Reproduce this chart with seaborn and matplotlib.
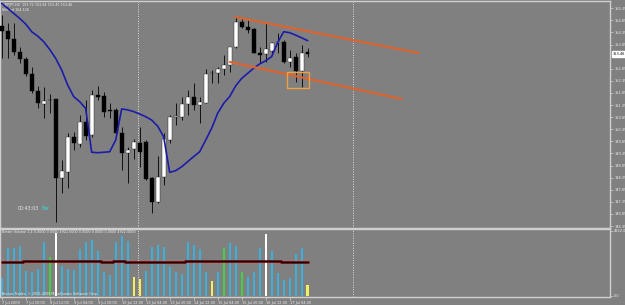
import matplotlib
matplotlib.use("Agg")
import matplotlib.pyplot as plt
import seaborn as sns
import numpy as np
import pandas as pd

# ---------------- data ----------------
opens  = [154.62,154.42,154.06,153.56,153.24,152.63,151.94,151.39,151.56,151.59,
          148.35,148.60,150.04,149.74,150.66,150.11,151.76,151.73,151.15,151.15,
          150.18,149.35,149.53,149.79,149.84,148.32,147.33,148.36,149.90,150.87,
          150.87,151.38,151.70,151.35,151.45,152.66,152.66,152.82,153.00,153.73,
          154.79,154.59,154.48,153.51,153.46,153.60,153.93,153.97,153.14,153.32,
          152.77,153.56]
closes = [154.42,154.06,153.56,153.24,152.63,151.94,151.42,151.52,151.55,148.32,
          148.64,150.04,149.77,150.66,150.07,151.76,151.70,151.08,151.12,150.18,
          149.38,149.49,149.84,149.40,148.29,147.36,148.36,149.93,150.87,150.90,
          151.38,151.70,151.35,151.46,152.63,152.69,152.82,152.99,153.73,154.79,
          154.59,154.45,153.51,153.42,153.65,153.93,153.97,153.14,153.28,152.77,
          153.51,153.46]
highs  = [155.07,154.75,154.75,153.76,153.32,152.94,152.14,152.08,151.81,151.62,
          149.08,150.18,150.25,150.94,151.56,151.97,152.14,151.90,151.42,151.21,
          150.46,149.63,149.93,150.46,149.90,148.39,149.24,150.18,150.94,151.45,
          151.70,151.97,152.27,151.70,152.82,152.80,152.94,153.42,153.76,155.00,
          154.93,154.86,154.52,153.76,154.73,153.97,154.31,154.04,153.62,153.49,
          153.83,153.69]
lows   = [153.28,153.28,153.42,153.07,152.55,151.83,151.21,150.80,151.01,146.53,
          147.70,147.91,149.49,149.63,149.90,150.04,151.56,150.87,150.80,150.04,
          148.67,148.14,149.11,148.80,148.25,146.90,147.29,148.05,149.77,150.52,
          150.73,150.94,151.15,150.62,151.42,152.25,152.25,152.59,152.73,153.69,
          154.52,154.31,153.49,153.07,153.14,153.49,153.49,153.07,152.94,152.31,
          152.08,153.32]
ma_values = [155.55,155.35,155.14,154.93,154.70,154.38,154.20,153.97,153.65,153.28,
             152.80,152.18,151.70,151.49,151.21,149.40,149.38,149.40,149.42,149.90,
             151.19,151.15,151.08,150.98,150.87,150.73,150.48,150.04,148.57,148.64,
             148.80,149.01,149.22,149.42,149.90,150.39,151.01,151.42,151.70,152.14,
             152.45,152.66,152.87,153.05,153.18,153.35,153.93,154.38,154.34,154.24,
             154.13,154.01]
volumes = [1338,3660,3660,3786,1893,1843,2044,4064,2978,4745,
           2297,2019,1969,3534,4114,4266,3407,1792,1590,4064,
           4568,4190,1464,1287,1893,3710,3862,3710,2171,1792,
           1666,4064,3862,3559,1792,1136,1843,3660,3988,3786,
           1843,1464,1843,3609,4695,3407,1716,1212,1338,3180,
           3660,833]
vol_kind = ["b","b","b","b","b","b","b","b","g","w",
            "b","b","b","b","b","b","b","b","b","b",
            "b","b","y","y","b","b","b","b","b","b",
            "b","b","b","b","b","y","b","g","b","b",
            "g","b","b","b","w","b","b","b","b","b",
            "b","y"]
vol_avg = [2580,2580,2600,2600,2620,2620,2640,2650,2660,2680,
           2660,2640,2640,2620,2620,2640,2620,2600,2600,2620,
           2640,2600,2580,2560,2560,2580,2600,2600,2600,2600,
           2600,2620,2640,2660,2660,2650,2660,2680,2680,2670,
           2660,2650,2640,2630,2640,2620,2620,2600,2600,2600,
           2600,2600]
upper_channel_x = [38.9, 69.5]
upper_channel_y = [154.99, 153.50]
lower_channel_x = [38.05, 66.7]
lower_channel_y = [153.13, 151.60]
box_x = [47.6, 51.2]
box_y = [152.05, 152.71]
vline_idx = [22.7, 58.6]
price_ticks = [round(146.35 + 0.5 * k, 2) for k in range(19)]
current_price = 153.46
time_tick_idx = [0, 4, 8, 12, 16, 20, 24, 28, 32, 36, 40, 44, 48]
time_tick_labels = ["7 Jul 2009", "7 Jul 20:00", "8 Jul 12:00", "9 Jul 04:00",
                    "9 Jul 20:00", "10 Jul 12:00", "13 Jul 04:00", "13 Jul 20:00",
                    "14 Jul 12:00", "15 Jul 04:00", "15 Jul 20:00", "16 Jul 12:00",
                    "17 Jul 04:00"]
vol_max_label = 4922.0

# ---------------- style ----------------
sns.set_theme(style="dark")
plt.rcParams['font.family'] = ['DejaVu Sans']
BG = "#808080"
TXT = "#eeeeee"
BORDER = "#cfcfcf"
FS_AX = 2.5
FS_SMALL = 2.4

W, H = 625, 305
fig = plt.figure(figsize=(W / 100, H / 100), dpi=100)
fig.patch.set_facecolor(BG)

def fx(px): return px / W
def fy(py): return 1 - py / H

ax = fig.add_axes([0, fy(228), fx(610), (228 - 1) / H])
axv = fig.add_axes([0, fy(297), fx(610), (297 - 229) / H])

n = len(opens)
idx = np.arange(n)
XMIN, XMAX = -0.28, 101.4

for a in (ax, axv):
    a.set_facecolor(BG)
    a.set_xlim(XMIN, XMAX)
    for s in a.spines.values():
        s.set_color(BORDER)
        s.set_linewidth(1.0)
    a.grid(False)
    for v in vline_idx:
        a.axvline(v, color="#dcdcdc", lw=0.7, ls=(0, (1, 1.5)), zorder=1)

# candles
ax.set_ylim(146.27, 155.65)
o = np.array(opens); c = np.array(closes)
ax.vlines(idx, lows, highs, color="#111111", lw=0.7, zorder=2)
bull = c >= o
bottoms = np.minimum(o, c)
heights = np.maximum(np.abs(c - o), 0.025)
ax.bar(idx[bull], heights[bull], bottom=bottoms[bull], width=0.62,
       color="white", edgecolor="#222222", linewidth=0.3, zorder=3)
ax.bar(idx[~bull], heights[~bull], bottom=bottoms[~bull], width=0.62,
       color="black", edgecolor="black", linewidth=0.3, zorder=3)

ma_df = pd.DataFrame({"i": idx, "ma": ma_values})
sns.lineplot(data=ma_df, x="i", y="ma", ax=ax, color="#1c1caa", lw=1.2, zorder=4)
ax.set_xlim(XMIN, XMAX)

ax.plot(upper_channel_x, upper_channel_y, color="#dc6430", lw=1.6, zorder=4)
ax.plot(lower_channel_x, lower_channel_y, color="#dc6430", lw=1.6, zorder=4)
ax.add_patch(plt.Rectangle((box_x[0], box_y[0]), box_x[1] - box_x[0], box_y[1] - box_y[0],
                           fill=False, edgecolor="#f0a040", lw=1.0, zorder=5))

shown = [p for p in price_ticks if abs(p - current_price) > 0.2]
ax.yaxis.tick_right()
ax.set_yticks(shown)
ax.set_yticklabels([f"{p:.2f}" for p in shown])
ax.tick_params(axis="y", which="both", right=True, direction="out", length=2,
               width=0.5, color=BORDER, labelsize=FS_AX, labelcolor=TXT, pad=1)
ax.set_xticks([])
ax.set_xlabel(""); ax.set_ylabel("")
ax.text(1.004, (current_price - 146.27) / (155.65 - 146.27), f"{current_price:.2f}",
        transform=ax.transAxes, fontsize=FS_AX, color="black", va="center", ha="left",
        bbox=dict(boxstyle="square,pad=0.15", fc="white", ec="white"), clip_on=False)

ax.text(0.003, 0.993, "GBPJPY,H4  153.72 153.84 153.45 153.46", transform=ax.transAxes,
        fontsize=FS_SMALL, color=TXT, va="top", ha="left")
ax.text(0.003, 0.968, "Shifted 154.126", transform=ax.transAxes,
        fontsize=FS_SMALL, color=TXT, va="top", ha="left")
ax.text(18 / 610, 1 - (208 - 1) / 227, "00:43:03", transform=ax.transAxes,
        fontsize=3.4, color="#e8e8e8", va="center", ha="left")
ax.text(41 / 610, 1 - (208 - 1) / 227, "Bar", transform=ax.transAxes,
        fontsize=3.4, color="#30e0e0", va="center", ha="left")

# volume panel
axv.set_ylim(-76, 5073)
colmap = {"b": "#3cb0dc", "g": "#44d044", "y": "#f0f060", "w": "#ffffff"}
vcols = [colmap[k] for k in vol_kind]
axv.bar(idx, volumes, width=0.38, color=vcols, linewidth=0, zorder=2)
avg_df = pd.DataFrame({"i": idx, "avg": vol_avg})
sns.lineplot(data=avg_df, x="i", y="avg", ax=axv, color="#7a0a0a", lw=2.0,
             drawstyle="steps-mid", zorder=3)
sns.lineplot(data=avg_df, x="i", y="avg", ax=axv, color="black", lw=0.6,
             drawstyle="steps-mid", zorder=4)
axv.set_xlim(XMIN, XMAX)
axv.yaxis.tick_right()
axv.set_yticks([0, vol_max_label])
axv.set_yticklabels(["0.0", f"{vol_max_label:.1f}"])
axv.tick_params(axis="y", right=True, direction="out", length=2, width=0.5,
                color=BORDER, labelsize=FS_AX, labelcolor=TXT, pad=1)
axv.set_xticks(time_tick_idx)
axv.set_xticklabels(time_tick_labels, ha="left")
axv.tick_params(axis="x", bottom=True, direction="out", length=2, width=0.5,
                color=BORDER, labelsize=FS_AX, labelcolor=TXT, pad=1)
axv.set_xlabel(""); axv.set_ylabel("")
axv.text(0.003, 0.985, "Better Volume 1.4 0.0000 0.0000 4922.0000 0.0000 0.0000 0.0000 4922.0000",
         transform=axv.transAxes, fontsize=FS_SMALL, color=TXT, va="top", ha="left")
axv.text(0.003, 0.02, "Bronze Trader, \u00a9 2005-2009 MetaQuotes Software Corp.",
         transform=axv.transAxes, fontsize=FS_SMALL, color=TXT, va="bottom", ha="left", zorder=6)

fig.savefig("out.png", dpi=100, facecolor=BG)
